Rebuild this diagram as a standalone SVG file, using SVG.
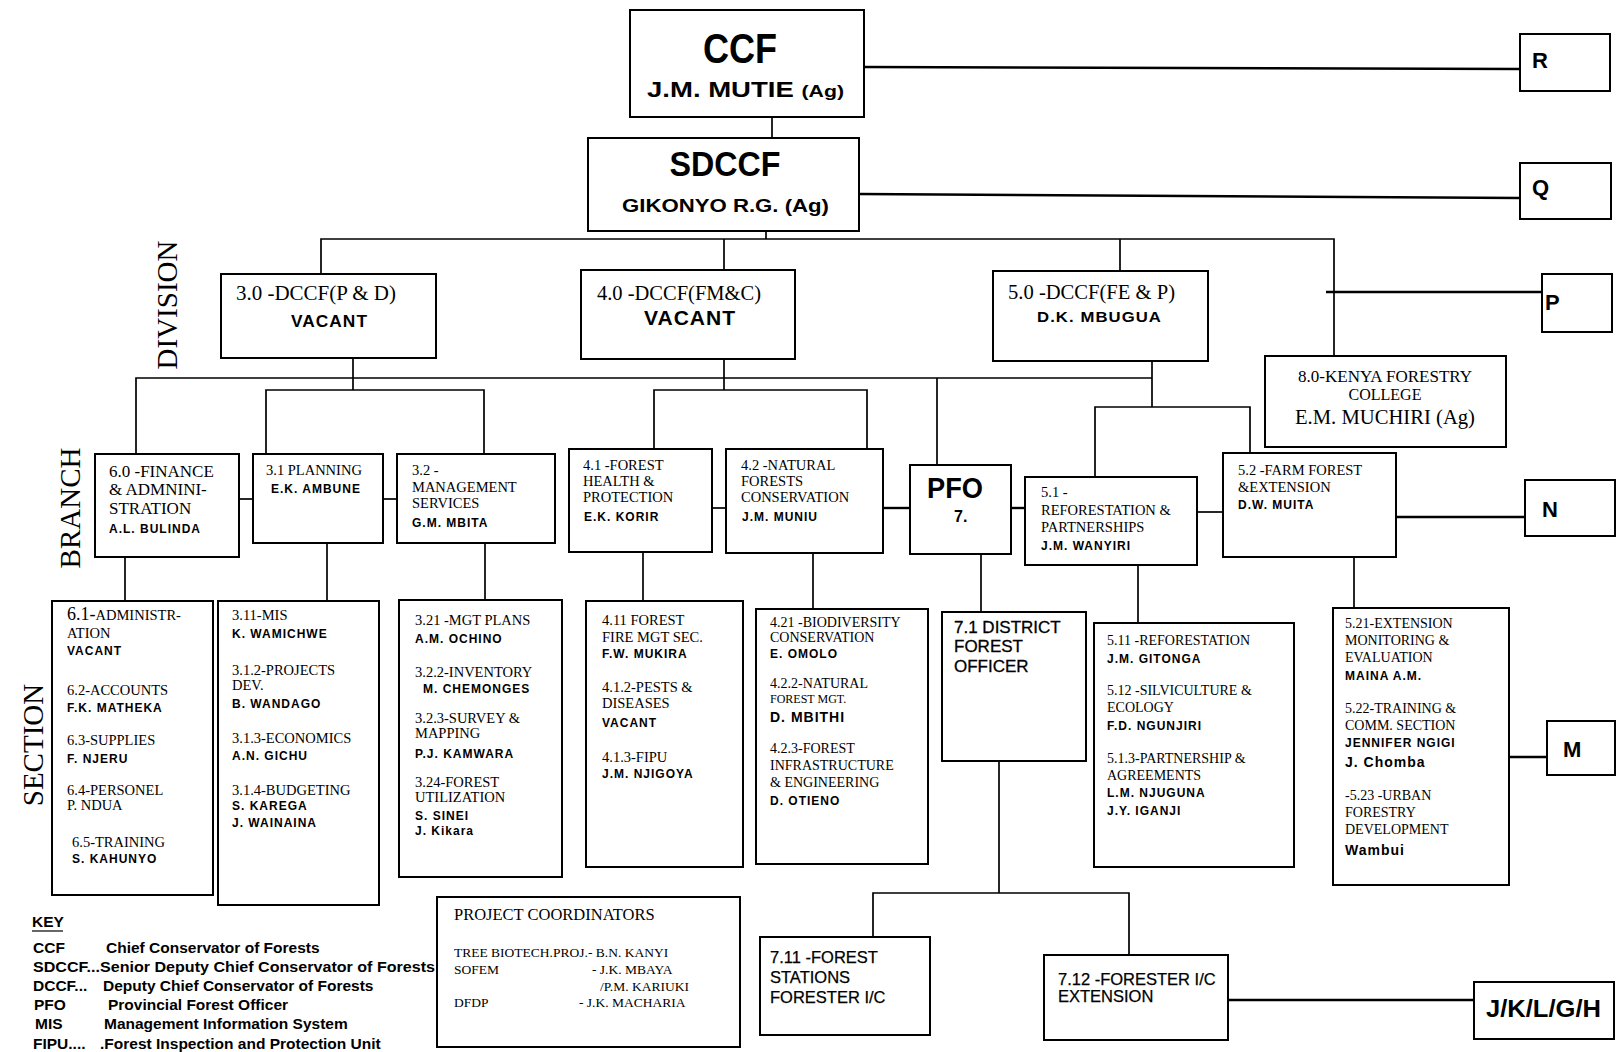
<svg xmlns="http://www.w3.org/2000/svg" width="1617" height="1052" viewBox="0 0 1617 1052">
<style>
.box{fill:#fff;stroke:#000;stroke-width:2}
.ln{fill:none;stroke:#000;stroke-width:1.7}
.lt{fill:none;stroke:#000;stroke-width:2.4}
.sf{font-family:"Liberation Serif","Times New Roman",serif;fill:#000}
.ss{font-family:"Liberation Sans",Arial,sans-serif;fill:#000}
.b{font-weight:bold}
.nm{font-family:"Liberation Sans",Arial,sans-serif;font-weight:bold;font-size:12px;letter-spacing:1px;fill:#000}
.t14{font-size:14.5px}
.t145{font-size:14.5px}
.lbl{font-family:"Liberation Serif","Times New Roman",serif;font-size:29px;fill:#000}
.key{font-family:"Liberation Sans",Arial,sans-serif;font-weight:bold;font-size:15.5px;fill:#000}
.let{font-family:"Liberation Sans",Arial,sans-serif;font-weight:bold;font-size:22px;fill:#000}
</style>
<rect width="1617" height="1052" fill="#fff"/>

<g id="connectors">
  <polyline class="ln" points="772,117 772,138"/>
  <polyline class="lt" points="864,67 1520,69"/>
  <polyline class="lt" points="859,194 1520,198"/>
  <polyline class="ln" points="766,231 766,239"/>
  <polyline class="ln" points="321,274 321,239 1334,239 1334,356"/>
  <polyline class="ln" points="724,239 724,270"/>
  <polyline class="ln" points="1120,239 1120,271"/>
  <polyline class="lt" points="1326,292 1557,292"/>
  <polyline class="ln" points="353,358 353,390"/>
  <polyline class="ln" points="136,454 136,378 1152,378"/>
  <polyline class="ln" points="266,454 266,390 484,390 484,454"/>
  <polyline class="ln" points="724,359 724,390"/>
  <polyline class="ln" points="654,449 654,390 867,390 867,449"/>
  <polyline class="ln" points="937,378 937,465"/>
  <polyline class="ln" points="1152,361 1152,407"/>
  <polyline class="ln" points="1095,477 1095,407 1250,407 1250,453"/>
  <polyline class="ln" points="239,499 253,499"/>
  <polyline class="ln" points="383,499 397,499"/>
  <polyline class="ln" points="712,508 726,508"/>
  <polyline class="lt" points="883,508 910,508"/>
  <polyline class="lt" points="1011,508 1025,508"/>
  <polyline class="ln" points="1197,512 1223,512"/>
  <polyline class="lt" points="1396,517 1525,517"/>
  <polyline class="ln" points="125,557 125,601"/>
  <polyline class="ln" points="327,543 327,601"/>
  <polyline class="ln" points="485,543 485,600"/>
  <polyline class="ln" points="643,552 643,601"/>
  <polyline class="ln" points="813,553 813,609"/>
  <polyline class="ln" points="981,554 981,612"/>
  <polyline class="ln" points="1138,555 1138,623"/>
  <polyline class="ln" points="1354,557 1354,608"/>
  <polyline class="ln" points="999,761 999,893"/>
  <polyline class="ln" points="873,937 873,893 1129,893 1129,955"/>
  <polyline class="lt" points="1228,1000 1474,1000"/>
  <polyline class="lt" points="1509,757 1547,757"/>
</g>

<g id="ccf">
  <rect class="box" x="630" y="10" width="234" height="107"/>
  <text class="ss b" x="740" y="63" font-size="42" text-anchor="middle" textLength="74" lengthAdjust="spacingAndGlyphs">CCF</text>
  <text class="ss b" x="647" y="97" font-size="22" textLength="197" lengthAdjust="spacingAndGlyphs">J.M. MUTIE <tspan font-size="17">(Ag)</tspan></text>
</g>
<g id="sdccf">
  <rect class="box" x="588" y="138" width="271" height="93"/>
  <text class="ss b" x="725" y="176" font-size="35" text-anchor="middle" textLength="111" lengthAdjust="spacingAndGlyphs">SDCCF</text>
  <text class="ss b" x="622" y="212" font-size="19" textLength="207" lengthAdjust="spacingAndGlyphs">GIKONYO R.G. (Ag)</text>
</g>
<g id="r"><rect class="box" x="1520" y="34" width="90" height="57"/><text class="let" x="1532" y="68">R</text></g>
<g id="q"><rect class="box" x="1520" y="163" width="91" height="56"/><text class="let" x="1532" y="195">Q</text></g>
<g id="p"><rect class="box" x="1542" y="274" width="70" height="58"/><text class="let" x="1545" y="310">P</text></g>
<g id="n"><rect class="box" x="1525" y="480" width="90" height="56"/><text class="let" x="1542" y="517">N</text></g>
<g id="m"><rect class="box" x="1547" y="721" width="68" height="54"/><text class="let" x="1563" y="757">M</text></g>
<g id="jklgh"><rect class="box" x="1474" y="982" width="140" height="57"/><text class="ss b" x="1486" y="1017" font-size="24" textLength="115" lengthAdjust="spacingAndGlyphs">J/K/L/G/H</text></g>

<g id="div30">
  <rect class="box" x="221" y="274" width="215" height="84"/>
  <text class="sf" x="236" y="300" font-size="20" textLength="160" lengthAdjust="spacingAndGlyphs">3.0 -DCCF(P &amp; D)</text>
  <text class="nm" x="291" y="327" style="font-size:17px" textLength="77" lengthAdjust="spacingAndGlyphs">VACANT</text>
</g>
<g id="div40">
  <rect class="box" x="581" y="270" width="214" height="89"/>
  <text class="sf" x="597" y="300" font-size="20" textLength="164" lengthAdjust="spacingAndGlyphs">4.0 -DCCF(FM&amp;C)</text>
  <text class="nm" x="644" y="325" style="font-size:21px" textLength="92" lengthAdjust="spacingAndGlyphs">VACANT</text>
</g>
<g id="div50">
  <rect class="box" x="993" y="271" width="215" height="90"/>
  <text class="sf" x="1008" y="299" font-size="20" textLength="167" lengthAdjust="spacingAndGlyphs">5.0 -DCCF(FE &amp; P)</text>
  <text class="nm" x="1037" y="322" style="font-size:15.5px" textLength="125" lengthAdjust="spacingAndGlyphs">D.K. MBUGUA</text>
</g>
<g id="div80">
  <rect class="box" x="1265" y="356" width="241" height="91"/>
  <text class="sf" x="1385" y="382" font-size="16" text-anchor="middle" textLength="174" lengthAdjust="spacingAndGlyphs">8.0-KENYA FORESTRY</text>
  <text class="sf" x="1385" y="400" font-size="16" text-anchor="middle">COLLEGE</text>
  <text class="sf" x="1385" y="424" font-size="20.5" text-anchor="middle" textLength="180" lengthAdjust="spacingAndGlyphs">E.M. MUCHIRI (Ag)</text>
</g>

<g id="br60">
  <rect class="box" x="95" y="454" width="144" height="103"/>
  <text class="sf" x="109" y="477" font-size="17">6.0 -FINANCE</text>
  <text class="sf" x="109" y="495" font-size="17">&amp; ADMNINI-</text>
  <text class="sf" x="109" y="514" font-size="17">STRATION</text>
  <text class="nm" x="109" y="533">A.L. BULINDA</text>
</g>
<g id="br31">
  <rect class="box" x="253" y="454" width="130" height="89"/>
  <text class="sf t145" x="266" y="475">3.1 PLANNING</text>
  <text class="nm" x="271" y="493">E.K. AMBUNE</text>
</g>
<g id="br32">
  <rect class="box" x="397" y="454" width="158" height="89"/>
  <text class="sf t145" x="412" y="475">3.2 -</text>
  <text class="sf t145" x="412" y="492">MANAGEMENT</text>
  <text class="sf t145" x="412" y="508">SERVICES</text>
  <text class="nm" x="412" y="527">G.M. MBITA</text>
</g>
<g id="br41">
  <rect class="box" x="569" y="449" width="143" height="103"/>
  <text class="sf t145" x="583" y="470">4.1 -FOREST</text>
  <text class="sf t145" x="583" y="486">HEALTH &amp;</text>
  <text class="sf t145" x="583" y="502">PROTECTION</text>
  <text class="nm" x="584" y="521">E.K. KORIR</text>
</g>
<g id="br42">
  <rect class="box" x="726" y="449" width="157" height="104"/>
  <text class="sf t145" x="741" y="470">4.2 -NATURAL</text>
  <text class="sf t145" x="741" y="486">FORESTS</text>
  <text class="sf t145" x="741" y="502">CONSERVATION</text>
  <text class="nm" x="742" y="521">J.M. MUNIU</text>
</g>
<g id="pfo">
  <rect class="box" x="910" y="465" width="101" height="89"/>
  <text class="ss b" x="955" y="498" font-size="29" text-anchor="middle" textLength="56" lengthAdjust="spacingAndGlyphs">PFO</text>
  <text class="ss b" x="954" y="522" font-size="16">7.</text>
</g>
<g id="br51">
  <rect class="box" x="1025" y="477" width="172" height="88"/>
  <text class="sf t14" x="1041" y="497">5.1 -</text>
  <text class="sf t14" x="1041" y="515">REFORESTATION &amp;</text>
  <text class="sf t14" x="1041" y="532">PARTNERSHIPS</text>
  <text class="nm" x="1041" y="550">J.M. WANYIRI</text>
</g>
<g id="br52">
  <rect class="box" x="1223" y="453" width="173" height="104"/>
  <text class="sf t14" x="1238" y="475">5.2 -FARM FOREST</text>
  <text class="sf t14" x="1238" y="492">&amp;EXTENSION</text>
  <text class="nm" x="1238" y="509">D.W. MUITA</text>
</g>

<g id="sec61">
  <rect class="box" x="52" y="601" width="161" height="294"/>
  <text class="sf" x="67" y="620" font-size="14.5"><tspan font-size="18">6.1-</tspan>ADMINISTR-</text>
  <text class="sf t14" x="67" y="638">ATION</text>
  <text class="nm" x="67" y="655">VACANT</text>
  <text class="sf t14" x="67" y="695">6.2-ACCOUNTS</text>
  <text class="nm" x="67" y="712">F.K. MATHEKA</text>
  <text class="sf t14" x="67" y="745">6.3-SUPPLIES</text>
  <text class="nm" x="67" y="763">F. NJERU</text>
  <text class="sf t14" x="67" y="795">6.4-PERSONEL</text>
  <text class="sf t14" x="67" y="810">P. NDUA</text>
  <text class="sf t14" x="72" y="847">6.5-TRAINING</text>
  <text class="nm" x="72" y="863">S. KAHUNYO</text>
</g>
<g id="sec311">
  <rect class="box" x="218" y="601" width="161" height="304"/>
  <text class="sf t14" x="232" y="620">3.11-MIS</text>
  <text class="nm" x="232" y="638">K. WAMICHWE</text>
  <text class="sf t14" x="232" y="675">3.1.2-PROJECTS</text>
  <text class="sf t14" x="232" y="690">DEV.</text>
  <text class="nm" x="232" y="708">B. WANDAGO</text>
  <text class="sf t14" x="232" y="743">3.1.3-ECONOMICS</text>
  <text class="nm" x="232" y="760">A.N. GICHU</text>
  <text class="sf t14" x="232" y="795">3.1.4-BUDGETING</text>
  <text class="nm" x="232" y="810">S. KAREGA</text>
  <text class="nm" x="232" y="827">J. WAINAINA</text>
</g>
<g id="sec321">
  <rect class="box" x="399" y="600" width="163" height="277"/>
  <text class="sf t14" x="415" y="625">3.21 -MGT PLANS</text>
  <text class="nm" x="415" y="643">A.M. OCHINO</text>
  <text class="sf t14" x="415" y="677">3.2.2-INVENTORY</text>
  <text class="nm" x="423" y="693">M. CHEMONGES</text>
  <text class="sf t14" x="415" y="723">3.2.3-SURVEY &amp;</text>
  <text class="sf t14" x="415" y="738">MAPPING</text>
  <text class="nm" x="415" y="758">P.J. KAMWARA</text>
  <text class="sf t14" x="415" y="787">3.24-FOREST</text>
  <text class="sf t14" x="415" y="802">UTILIZATION</text>
  <text class="nm" x="415" y="820">S. SINEI</text>
  <text class="nm" x="415" y="835">J. Kikara</text>
</g>
<g id="sec411">
  <rect class="box" x="586" y="601" width="157" height="266"/>
  <text class="sf t14" x="602" y="625">4.11  FOREST</text>
  <text class="sf t14" x="602" y="642">FIRE MGT SEC.</text>
  <text class="nm" x="602" y="658">F.W. MUKIRA</text>
  <text class="sf t14" x="602" y="692">4.1.2-PESTS &amp;</text>
  <text class="sf t14" x="602" y="708">DISEASES</text>
  <text class="nm" x="602" y="727">VACANT</text>
  <text class="sf t14" x="602" y="762">4.1.3-FIPU</text>
  <text class="nm" x="602" y="778">J.M. NJIGOYA</text>
</g>
<g id="sec421">
  <rect class="box" x="756" y="609" width="172" height="255"/>
  <text class="sf" x="770" y="627" font-size="14">4.21 -BIODIVERSITY</text>
  <text class="sf" x="770" y="642" font-size="14">CONSERVATION</text>
  <text class="nm" x="770" y="658">E. OMOLO</text>
  <text class="sf" x="770" y="688" font-size="14">4.2.2-NATURAL</text>
  <text class="sf" x="770" y="703" font-size="12">FOREST MGT.</text>
  <text class="nm" x="770" y="722" style="font-size:14px">D. MBITHI</text>
  <text class="sf" x="770" y="753" font-size="14">4.2.3-FOREST</text>
  <text class="sf" x="770" y="770" font-size="14">INFRASTRUCTURE</text>
  <text class="sf" x="770" y="787" font-size="14">&amp; ENGINEERING</text>
  <text class="nm" x="770" y="805">D. OTIENO</text>
</g>
<g id="sec71">
  <rect class="box" x="942" y="612" width="144" height="149"/>
  <text class="ss" x="954" y="633" font-size="17" stroke="#000" stroke-width="0.3">7.1 DISTRICT</text>
  <text class="ss" x="954" y="652" font-size="17" stroke="#000" stroke-width="0.3">FOREST</text>
  <text class="ss" x="954" y="672" font-size="17" stroke="#000" stroke-width="0.3">OFFICER</text>
</g>
<g id="sec511">
  <rect class="box" x="1094" y="623" width="200" height="244"/>
  <text class="sf" x="1107" y="645" font-size="14">5.11 -REFORESTATION</text>
  <text class="nm" x="1107" y="663">J.M. GITONGA</text>
  <text class="sf" x="1107" y="695" font-size="14">5.12 -SILVICULTURE &amp;</text>
  <text class="sf" x="1107" y="712" font-size="14">ECOLOGY</text>
  <text class="nm" x="1107" y="730">F.D. NGUNJIRI</text>
  <text class="sf" x="1107" y="763" font-size="14">5.1.3-PARTNERSHIP &amp;</text>
  <text class="sf" x="1107" y="780" font-size="14">AGREEMENTS</text>
  <text class="nm" x="1107" y="797">L.M. NJUGUNA</text>
  <text class="nm" x="1107" y="815">J.Y. IGANJI</text>
</g>
<g id="sec521">
  <rect class="box" x="1333" y="608" width="176" height="277"/>
  <text class="sf" x="1345" y="628" font-size="14">5.21-EXTENSION</text>
  <text class="sf" x="1345" y="645" font-size="14">MONITORING  &amp;</text>
  <text class="sf" x="1345" y="662" font-size="14">EVALUATION</text>
  <text class="nm" x="1345" y="680">MAINA A.M.</text>
  <text class="sf" x="1345" y="713" font-size="14">5.22-TRAINING &amp;</text>
  <text class="sf" x="1345" y="730" font-size="14">COMM. SECTION</text>
  <text class="nm" x="1345" y="747">JENNIFER NGIGI</text>
  <text class="nm" x="1345" y="767" style="font-size:14px">J. Chomba</text>
  <text class="sf" x="1345" y="800" font-size="14">-5.23 -URBAN</text>
  <text class="sf" x="1345" y="817" font-size="14">FORESTRY</text>
  <text class="sf" x="1345" y="834" font-size="14">DEVELOPMENT</text>
  <text class="nm" x="1345" y="855" style="font-size:14px">Wambui</text>
</g>
<g id="sec711">
  <rect class="box" x="760" y="937" width="170" height="98"/>
  <text class="ss" x="770" y="963" font-size="16.5" stroke="#000" stroke-width="0.25">7.11  -FOREST</text>
  <text class="ss" x="770" y="983" font-size="16.5" stroke="#000" stroke-width="0.25">STATIONS</text>
  <text class="ss" x="770" y="1003" font-size="16.5" stroke="#000" stroke-width="0.25">FORESTER I/C</text>
</g>
<g id="sec712">
  <rect class="box" x="1044" y="955" width="184" height="85"/>
  <text class="ss" x="1058" y="985" font-size="16.5" stroke="#000" stroke-width="0.25">7.12 -FORESTER I/C</text>
  <text class="ss" x="1058" y="1002" font-size="16.5" stroke="#000" stroke-width="0.25">EXTENSION</text>
</g>

<g id="projects">
  <rect class="box" x="437" y="897" width="303" height="150"/>
  <text class="sf" x="454" y="920" font-size="16.5">PROJECT COORDINATORS</text>
  <text class="sf" x="454" y="957" font-size="13.5">TREE BIOTECH.PROJ.- B.N. KANYI</text>
  <text class="sf" x="454" y="974" font-size="13.5">SOFEM</text>
  <text class="sf" x="592" y="974" font-size="13.5">- J.K. MBAYA</text>
  <text class="sf" x="600" y="991" font-size="13.5">/P.M. KARIUKI</text>
  <text class="sf" x="454" y="1007" font-size="13.5">DFDP</text>
  <text class="sf" x="579" y="1007" font-size="13.5">- J.K. MACHARIA</text>
</g>

<g id="key">
  <text class="key" x="32" y="927">KEY</text>
  <line x1="32" y1="931" x2="63" y2="931" stroke="#000" stroke-width="1.2"/>
  <text class="key" x="33" y="953">CCF</text>
  <text class="key" x="106" y="953">Chief Conservator of Forests</text>
  <text class="key" x="33" y="972" textLength="402" lengthAdjust="spacingAndGlyphs">SDCCF...Senior Deputy Chief Conservator of Forests</text>
  <text class="key" x="33" y="991">DCCF...</text>
  <text class="key" x="103" y="991">Deputy Chief Conservator of Forests</text>
  <text class="key" x="34" y="1010">PFO</text>
  <text class="key" x="108" y="1010">Provincial Forest Officer</text>
  <text class="key" x="35" y="1029">MIS</text>
  <text class="key" x="104" y="1029">Management Information System</text>
  <text class="key" x="33" y="1049">FIPU....</text>
  <text class="key" x="100" y="1049">.Forest Inspection and Protection Unit</text>
</g>

<g id="levels">
  <text class="lbl" x="177" y="305" text-anchor="middle" transform="rotate(-90 177 305)">DIVISION</text>
  <text class="lbl" x="80" y="508" text-anchor="middle" transform="rotate(-90 80 508)">BRANCH</text>
  <text class="lbl" x="43" y="745" text-anchor="middle" transform="rotate(-90 43 745)">SECTION</text>
</g>
</svg>
